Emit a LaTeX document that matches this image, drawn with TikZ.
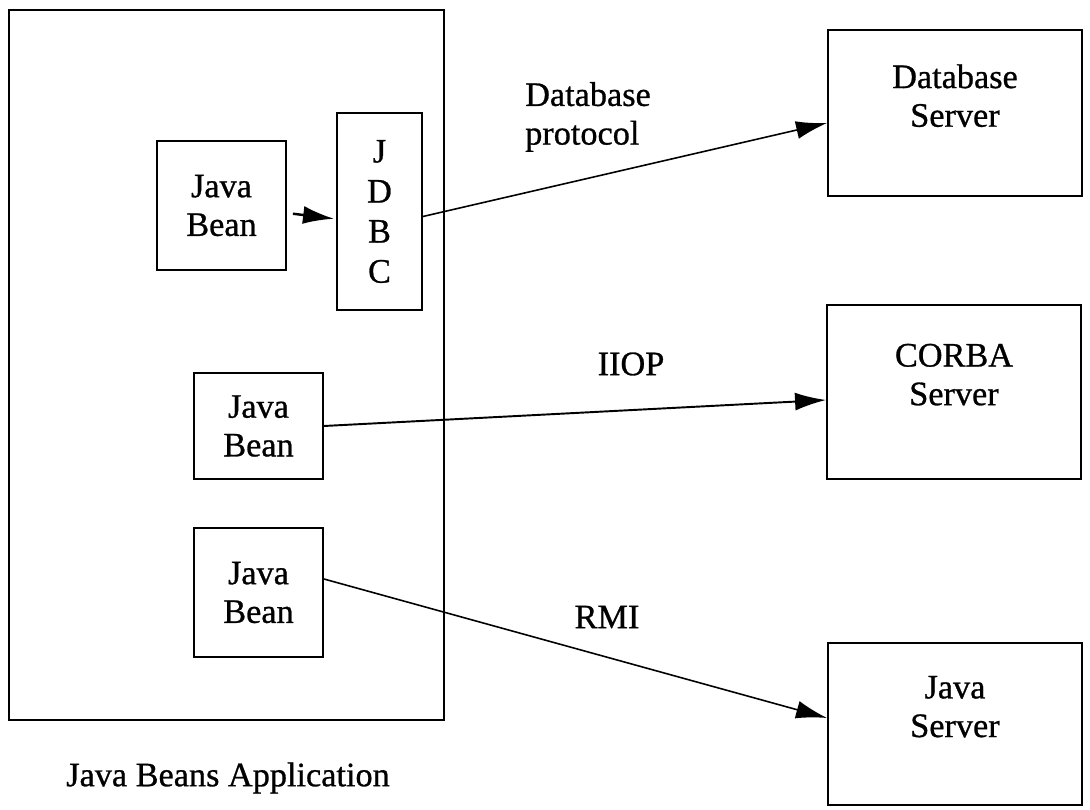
\documentclass[tikz,border=0pt]{standalone}
\usepackage{fontspec}
\setmainfont{Liberation Serif}[FakeBold=0.8]
\usetikzlibrary{arrows.meta}
\usetikzlibrary{positioning}
\tikzset{every node/.style = {font=\fontsize{19.5}{22}\selectfont}}
\tikzset{box/.style = {draw, line width=1.1pt, align=center, inner sep=0}}
\tikzset{bean/.style = {box, minimum width=2.58cm}}
\tikzset{server/.style = {box, minimum width=5.08cm, text depth=0.7cm}}
\tikzset{arr/.style = {line width=0.9pt, -{Latex[length=0.62cm, width=0.36cm]}}}

\begin{document}
\begin{tikzpicture}[x=0.02cm, y=-0.02cm]
    \useasboundingbox (0,0) rectangle (1090,810);

    \node [box, minimum width=8.7cm, minimum height=14.2cm] (app) at (226.5,365) {};
    \node (applabel) at (228,778) {Java Beans Application};

    \node [bean, minimum height=2.58cm] (bean1) at (221.5,205.5) {Java\\Bean};
    \node [box, minimum width=1.7cm, minimum height=3.94cm,
           font=\fontsize{19.5}{22.8}\selectfont] (jdbc) at (379.5,211.5) {J\\D\\B\\C};
    \node [bean, minimum height=2.12cm] (bean2) at (258.5,426) {Java\\Bean};
    \node [bean, minimum height=2.58cm] (bean3) at (258.5,592.5) {Java\\Bean};

    \node [server, minimum height=3.32cm] (dbserver) at (955,113) {Database\\Server};
    \node [server, minimum height=3.48cm] (corbaserver) at (954,392) {CORBA\\Server};
    \node [server, minimum height=3.24cm] (javaserver) at (955,724) {Java\\Server};

    \node [align=left] (dblabel) at (588,117) {Database\\protocol};
    \node (iioplabel) at (631,364) {IIOP};
    \node (rmilabel) at (607,617) {RMI};

    % connectors, shifted to where the lines meet the boxes
    \draw [arr, line width=1.4pt, shorten <=0.12cm, shorten >=0.04cm] ([yshift=-0.15cm]bean1.east) -- ([yshift=-0.15cm]jdbc.west);
    \draw [arr] ([yshift=-0.1cm]jdbc.east) -- ([yshift=-0.2cm]dbserver.west);
    \draw [arr, line width=1.1pt] (bean2.east) -- ([yshift=-0.16cm]corbaserver.west);
    \draw [arr] ([yshift=0.27cm]bean3.east) -- ([yshift=0.12cm]javaserver.west);
\end{tikzpicture}
\end{document}
